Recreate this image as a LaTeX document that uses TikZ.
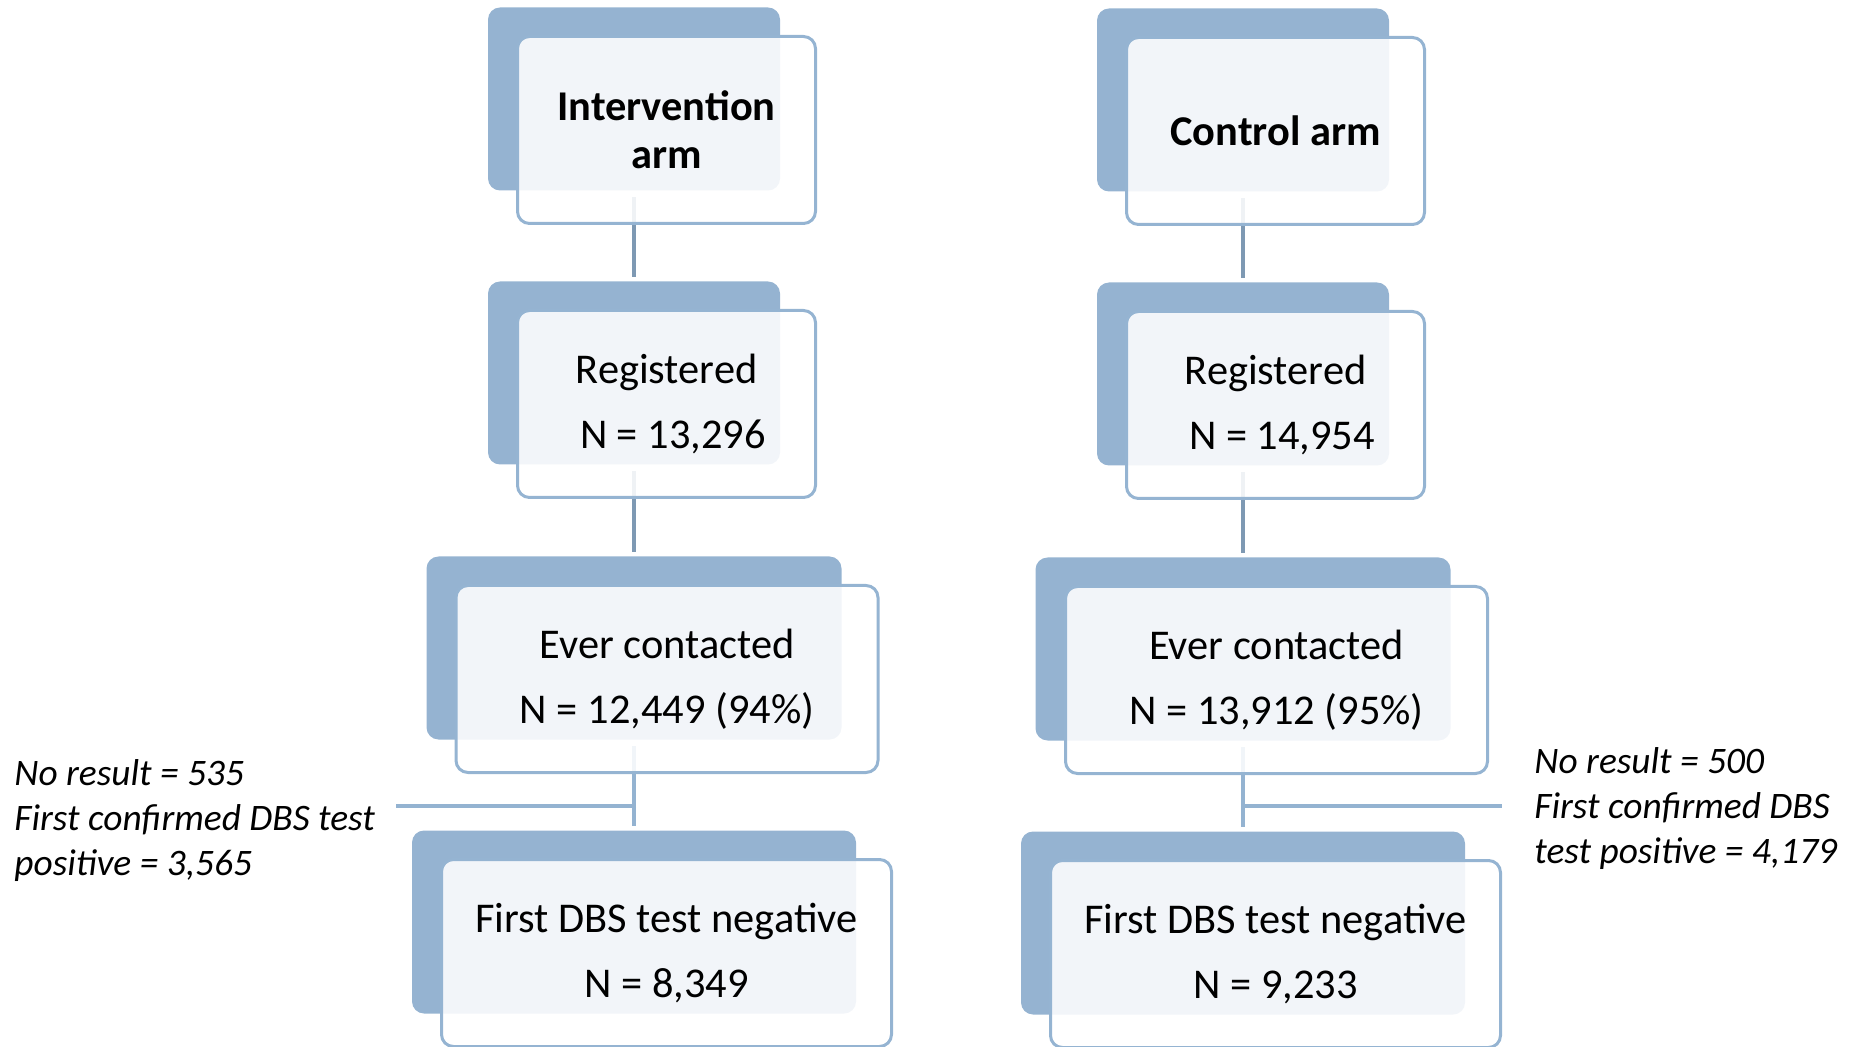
\documentclass[tikz,border=0pt]{standalone}
\usepackage{fontspec}
\setmainfont{Carlito}
\definecolor{backfill}{HTML}{95B3D1}
\definecolor{frontline}{HTML}{95B4D2}
\definecolor{conndark}{HTML}{7E99B3}
\definecolor{connlight}{HTML}{94B3D1}
\begin{document}
\begin{tikzpicture}[x=0.5pt,y=-0.5pt,
  backbox/.style={draw=none,fill=backfill,rounded corners=6pt,minimum height=91.5pt,inner sep=0pt},
  frontbox/.style={draw=frontline,line width=1.5pt,fill=white,fill opacity=0.88,text opacity=1,
     rounded corners=6pt,minimum height=93.5pt,inner sep=0pt,align=center,
     font=\fontsize{21.2}{32.5}\selectfont},
  titlebox/.style={frontbox,font=\fontsize{21.2}{24}\selectfont\bfseries},
  narrowb/.style={minimum width=146pt},
  narrowf/.style={minimum width=149pt},
  midb/.style={minimum width=207.5pt},
  midf/.style={minimum width=211pt},
  wideb/.style={minimum width=222pt},
  widef/.style={minimum width=225pt},
  conn/.style={draw=conndark,line width=1.75pt},
  connl/.style={draw=connlight,line width=1.75pt},
  side/.style={align=left,anchor=west,inner sep=0pt,font=\fontsize{18.7}{22.5}\selectfont\itshape}
]
\useasboundingbox (0,0) rectangle (1852,1047);
% ---------- back boxes ----------
\node[backbox,narrowb] (ib1) at (634,99) {};
\node[backbox,narrowb] (ib2) at (634,373) {};
\node[backbox,midb]    (ib3) at (634,648) {};
\node[backbox,wideb]   (ib4) at (634,922) {};
\node[backbox,narrowb] (cb1) at (1243,100) {};
\node[backbox,narrowb] (cb2) at (1243,374) {};
\node[backbox,midb]    (cb3) at (1243,649) {};
\node[backbox,wideb]   (cb4) at (1243,923) {};
% ---------- connectors ----------
\draw[conn]  ([yshift=-3pt]ib1.south) -- ([yshift=2pt]ib2.north);
\draw[conn]  ([yshift=-3pt]ib2.south) -- ([yshift=2pt]ib3.north);
\draw[connl] ([yshift=-3pt]ib3.south) -- ([yshift=2pt]ib4.north);
\draw[conn]  ([yshift=-3pt]cb1.south) -- ([yshift=2pt]cb2.north);
\draw[conn]  ([yshift=-3pt]cb2.south) -- ([yshift=2pt]cb3.north);
\draw[connl] ([yshift=-3pt]cb3.south) -- ([yshift=2pt]cb4.north);
\coordinate (ij) at (636,806);
\coordinate (ie) at (396,806);
\coordinate (cj) at (1242,806);
\coordinate (ce) at (1502,806);
\draw[connl] (ij) -- (ie);
\draw[connl] (cj) -- (ce);
% ---------- front boxes ----------
\node[titlebox,narrowf] (if1) at (666.5,130) {Intervention\\arm};
\node[frontbox,narrowf] (if2) at (666.5,404) {Registered\\\hspace*{0.3em}N = 13,296};
\node[frontbox,midf]    (if3) at (667,679) {Ever contacted\\N = 12,449 (94\%)};
\node[frontbox,widef]   (if4) at (666.5,953) {First DBS test negative\\N = 8,349};
\node[titlebox,narrowf] (cf1) at (1275.5,131) {Control arm};
\node[frontbox,narrowf] (cf2) at (1275.5,405) {Registered\\\hspace*{0.3em}N = 14,954};
\node[frontbox,midf]    (cf3) at (1276.5,680) {Ever contacted\\N = 13,912 (95\%)};
\node[frontbox,widef]   (cf4) at (1275.5,954) {First DBS test negative\\N = 9,233};
% ---------- side notes ----------
\node[side] (is) at (14,821) {No result = 535\\First confirmed DBS test\\positive = 3,565};
\node[side] (cs) at (1534,809) {No result = 500\\First confirmed DBS\\test positive = 4,179};
\end{tikzpicture}
\end{document}
